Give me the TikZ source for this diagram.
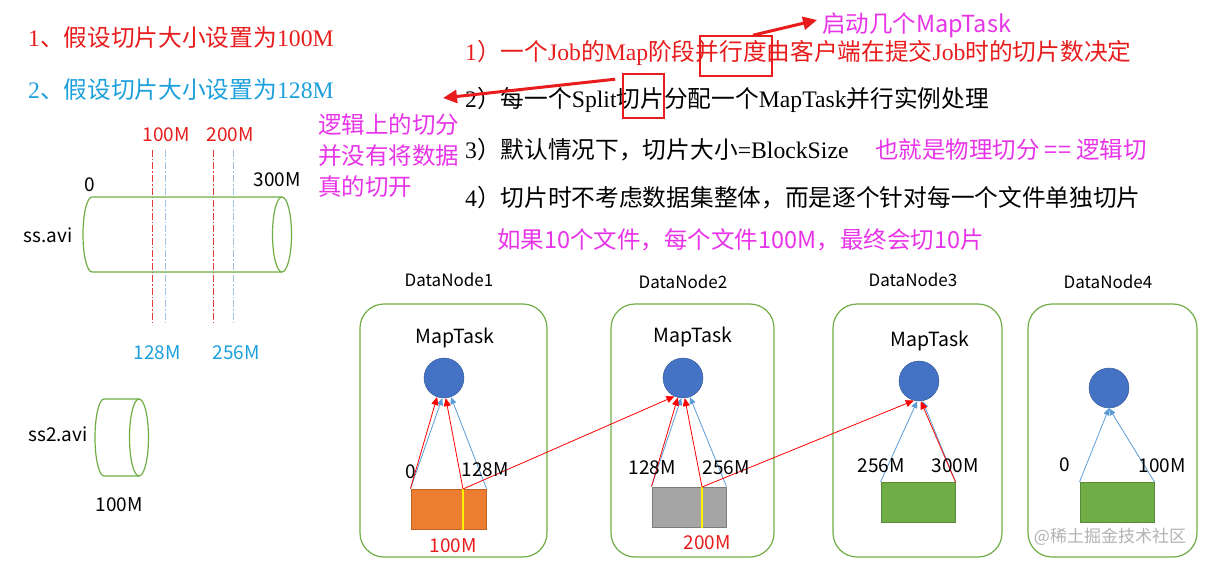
\documentclass[tikz,border=0pt]{standalone}
\usepackage{fontspec}
\setmainfont{Liberation Serif}
\newfontfamily\cjk{Noto Sans CJK SC}
\usetikzlibrary{arrows.meta}
\usetikzlibrary{positioning}

\definecolor{hlred}{RGB}{232,28,28}
\definecolor{hlcyan}{RGB}{28,160,220}
\definecolor{hlpink}{RGB}{232,52,232}
\definecolor{boxgreen}{RGB}{112,173,71}
\definecolor{mtblue}{RGB}{68,114,196}
\definecolor{lnblue}{RGB}{91,155,213}
\definecolor{cutblue}{RGB}{157,195,230}
\definecolor{cutred}{RGB}{225,60,60}
\definecolor{blkorange}{RGB}{237,125,49}
\definecolor{blkgray}{RGB}{165,165,165}

\tikzset{
  big/.style={font=\fontsize{23.7}{27}\selectfont, inner sep=0pt, anchor=west},
  pinktxt/.style={font=\cjk\fontsize{23.5}{27}\selectfont, hlpink, inner sep=0pt, anchor=west},
  lbl/.style={font=\cjk\fontsize{17}{20}\selectfont, inner sep=0pt},
  numlbl/.style={font=\cjk\fontsize{19}{22}\selectfont, inner sep=0pt},
  dnbox/.style={draw=boxgreen, line width=1.2pt, rounded corners=24pt, minimum height=253pt},
  mtask/.style={circle, fill=mtblue, draw=mtblue!75!black, minimum size=40pt, inner sep=0pt},
  blk/.style={minimum width=74pt, minimum height=40pt, inner sep=0pt, line width=1pt},
  hlbox/.style={draw=hlred, line width=1.6pt, inner sep=0pt},
  redarr/.style={red, line width=0.8pt, -{Triangle[length=8pt,width=7pt]}},
  bluarr/.style={lnblue, line width=0.8pt, -{Triangle[length=7pt,width=6pt]}},
  fatarr/.style={hlred, line width=3pt, -{Triangle[length=14pt,width=13pt]}},
  cutline/.style={dash pattern=on 7pt off 2pt on 1.5pt off 2pt, line width=0.8pt},
  cyl/.style={boxgreen, line width=1.2pt},
}

\begin{document}
\begin{tikzpicture}[x=1pt, y=-1pt]
\useasboundingbox (0,0) rectangle (1206,564);

% statements
\node[big, hlred] (s1) at (28,38) {1{\cjk 、假设切片大小设置为}100M};
\node[big, hlcyan] (s2) at (28,90) {2{\cjk 、假设切片大小设置为}128M};

\node[big, hlred] (p1) at (465,53) {1{\cjk ）一个}Job{\cjk 的}Map{\cjk 阶段并行度由客户端在提交}Job{\cjk 时的切片数决定}};
\node[big] (p2) at (465,100) {2{\cjk ）每一个}Split{\cjk 切片分配一个}MapTask{\cjk 并行实例处理}};
\node[big] (p3) at (465,150) {3{\cjk ）默认情况下，切片大小}=BlockSize};
\node[big] (p4) at (465,198) {4{\cjk ）切片时不考虑数据集整体，而是逐个针对每一个文件单独切片}};

\node[pinktxt] (st) at (822,25) {启动几个MapTask};
\node[pinktxt] (p3b) at (875,150) {也就是物理切分 == 逻辑切};
\node[pinktxt] (p5) at (497,240) {如果10个文件，每个文件100M，最终会切10片};
\node[pinktxt] (n1) at (318,125) {逻辑上的切分};
\node[pinktxt] (n2) at (318,156) {并没有将数据};
\node[pinktxt] (n3) at (318,187) {真的切开};

\node[hlbox, minimum width=72pt, minimum height=40pt] (hl1) at (736,56) {};
\node[hlbox, minimum width=41pt, minimum height=44pt] (hl2) at (643.5,96) {};
\coordinate (cutptr) at (443,98);
\draw[fatarr] ([xshift=17pt]hl1.north) -- ([xshift=-5pt,yshift=5pt]st.west);
\draw[fatarr] ([xshift=-7pt,yshift=-6pt]hl2.north west) -- (cutptr);

% files
\foreach \x/\c in {152/cutred, 213/cutred, 165/cutblue, 233/cutblue}
  \draw[cutline, \c] (\x,150) -- (\x,325);
\draw[cyl] (282,197) -- (92,197) arc[start angle=270, end angle=90, x radius=9, y radius=37.5] -- (282,272);
\draw[cyl] (282,234.5) ellipse[x radius=9.5, y radius=37.5];
\draw[cyl] (139,399) -- (104,399) arc[start angle=270, end angle=90, x radius=9, y radius=38.5] -- (139,476);
\draw[cyl] (139,437.5) ellipse[x radius=9.5, y radius=38.5];

\node[numlbl, hlred] (f100) at (166,135) {100M};
\node[numlbl, hlred] (f200) at (230,135) {200M};
\node[numlbl] (f0) at (90,185) {0};
\node[numlbl] (f300) at (277,180) {300M};
\node[numlbl] (ss) at (48,235) {ss.avi};
\node[numlbl, hlcyan] (f128) at (157,353) {128M};
\node[numlbl, hlcyan] (f256) at (236,353) {256M};
\node[numlbl] (ss2) at (58,434) {ss2.avi};
\node[numlbl] (g100) at (119,505) {100M};

% datanodes
\node[dnbox, minimum width=187pt] (dn1) at (453.5,430.5) {};
\node[dnbox, minimum width=163pt] (dn2) at (692.5,430.5) {};
\node[dnbox, minimum width=169pt] (dn3) at (917.5,430.5) {};
\node[dnbox, minimum width=169pt] (dn4) at (1112.5,430.5) {};
\node[lbl] (t1) at (449,280) {DataNode1};
\node[lbl] (t2) at (683,282) {DataNode2};
\node[lbl] (t3) at (913,280) {DataNode3};
\node[lbl] (t4) at (1108,282) {DataNode4};

\node[mtask] (c1) at (444,378) {};
\node[mtask] (c2) at (683,378) {};
\node[mtask] (c3) at (919,381) {};
\node[mtask] (c4) at (1109,388) {};
\node[numlbl, font=\cjk\fontsize{19.5}{22}\selectfont] (m1) at (455,338) {MapTask};
\node[numlbl, font=\cjk\fontsize{19.5}{22}\selectfont] (m2) at (693,337) {MapTask};
\node[numlbl, font=\cjk\fontsize{19.5}{22}\selectfont] (m3) at (930,341) {MapTask};

\node[blk, fill=blkorange, draw=blkorange!80!black, minimum width=75pt] (b1) at (448.5,509) {};
\node[blk, fill=blkgray, draw=blkgray!75!black] (b2) at (689,507) {};
\node[blk, fill=boxgreen, draw=boxgreen!80!black] (b3) at (918,502.5) {};
\node[blk, fill=boxgreen, draw=boxgreen!80!black] (b4) at (1117,502.5) {};
\coordinate (y1) at (463,489);
\coordinate (y2) at (702,487);
\draw[yellow, line width=2.5pt] (y1) -- (y1 |- b1.south);
\draw[yellow, line width=2.5pt] (y2) -- (y2 |- b2.south);

\draw[bluarr] (b1.north west) -- (c1.265);
\draw[bluarr] (b1.north east) -- (c1.290);
\draw[bluarr] (b2.north west) -- (c2.265);
\draw[bluarr] (b2.north east) -- (c2.290);
\draw[bluarr] (b3.north west) -- (c3.265);
\draw[bluarr] (b3.north east) -- (c3.280);
\draw[bluarr] (b4.north west) -- (c4.south);
\draw[bluarr] (b4.north east) -- (c4.south);

\draw[redarr] (b1.north west) -- (c1.250);
\draw[redarr] (y1) -- (c1.275);
\draw[redarr] (y1) -- (c2.245);
\draw[redarr] (b2.north west) -- (c2.255);
\draw[redarr] (y2) -- (c2.275);
\draw[redarr] (y2) -- (c3.255);
\draw[redarr] (b3.north east) -- (c3.275);

\node[numlbl] (a0) at (411,472) {0};
\node[numlbl] (a128) at (485,470) {128M};
\node[numlbl] (b128) at (652,468) {128M};
\node[numlbl] (b256) at (726,468) {256M};
\node[numlbl] (c256) at (881,466) {256M};
\node[numlbl] (c300) at (955,466) {300M};
\node[numlbl] (d0) at (1065,465) {0};
\node[numlbl] (d100) at (1162,466) {100M};
\node[numlbl, hlred] (a100) at (453,546) {100M};
\node[numlbl, hlred] (b200) at (707,543) {200M};

\node[numlbl, font=\cjk\fontsize{17}{20}\selectfont, gray!60] (wm) at (1110,537) {@稀土掘金技术社区};
\end{tikzpicture}
\end{document}
